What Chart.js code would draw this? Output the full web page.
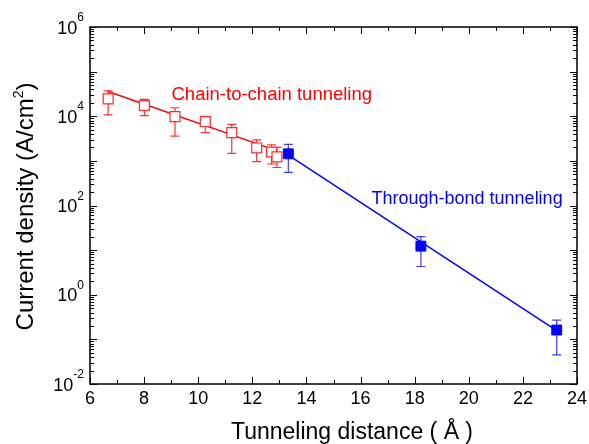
<!DOCTYPE html>
<html>
<head>
<meta charset="utf-8">
<script src="https://cdn.jsdelivr.net/npm/chart.js@4"></script>
<style>
  html, body { margin: 0; padding: 0; background: #fff; }
  canvas { display: block; }
</style>
</head>
<body>
<canvas id="c" width="589" height="444"></canvas>
<script>
// data
const chainX = [6.67, 8.01, 9.14, 10.26, 11.24, 12.16, 12.71, 12.91];
const chainY = [2.45e4, 1.74e4, 9.8e3, 7.6e3, 4.3e3, 1.95e3, 1.58e3, 1.23e3];
const chainHi = [3.7e4, 2.4e4, 1.55e4, 1.0e4, 6.6e3, 2.95e3, 2.3e3, 2.0e3];
const chainLo = [1.07e4, 1.03e4, 3.6e3, 4.3e3, 1.48e3, 9.6e2, 8.5e2, 7.1e2];

const bondX = [13.33, 18.23, 23.25];
const bondY = [1.44e3, 12.3, 0.162];
const bondHi = [2.35e3, 20, 0.27];
const bondLo = [5.5e2, 4.3, 0.045];

const chainFitX = [6.67, 12.9];
const chainFitY = [3.6e4, 1.7e3];
const bondFitX = [13.33, 23.25];
const bondFitY = [1.34e3, 0.158];

const xTicks = [6, 8, 10, 12, 14, 16, 18, 20, 22, 24];
const yTickExp = [-2, 0, 2, 4, 6];

const FONT = '"Liberation Sans", Arial, sans-serif';

function pts(xs, ys) {
  return xs.map((x, i) => ({x: x, y: ys[i]}));
}

// error bars, frame, ticks and text
const decor = {
  id: 'decor',
  beforeDatasetsDraw(chart) {
    const ctx = chart.ctx, xs = chart.scales.x, ys = chart.scales.y;
    function bars(X, Lo, Hi, color) {
      ctx.save();
      ctx.strokeStyle = color;
      ctx.lineWidth = 1.2;
      for (let i = 0; i < X.length; i++) {
        const px = xs.getPixelForValue(X[i]);
        const top = ys.getPixelForValue(Hi[i]);
        const bot = ys.getPixelForValue(Lo[i]);
        ctx.beginPath();
        ctx.moveTo(px, top); ctx.lineTo(px, bot);
        ctx.moveTo(px - 4.5, top); ctx.lineTo(px + 4.5, top);
        ctx.moveTo(px - 4.5, bot); ctx.lineTo(px + 4.5, bot);
        ctx.stroke();
      }
      ctx.restore();
    }
    bars(chainX, chainLo, chainHi, '#ff3030');
    bars(bondX, bondLo, bondHi, '#3c3cff');
  },
  afterDraw(chart) {
    const ctx = chart.ctx, xs = chart.scales.x, ys = chart.scales.y;
    const a = chart.chartArea;
    ctx.save();
    ctx.strokeStyle = '#000';
    ctx.lineWidth = 1.5;
    ctx.strokeRect(a.left, a.top, a.right - a.left, a.bottom - a.top);

    ctx.lineWidth = 1;
    ctx.beginPath();
    // x ticks (inward, top and bottom)
    for (let v = 6; v <= 24; v++) {
      const px = Math.round(xs.getPixelForValue(v)) + 0.5;
      const len = v % 2 === 0 ? 7 : 4;
      ctx.moveTo(px, a.bottom); ctx.lineTo(px, a.bottom - len);
      ctx.moveTo(px, a.top); ctx.lineTo(px, a.top + len);
    }
    // y ticks (log, inward, left and right)
    for (let e = -2; e <= 6; e++) {
      for (let k = 1; k <= 9; k++) {
        if (e === 6 && k > 1) break;
        const py = Math.round(ys.getPixelForValue(k * Math.pow(10, e))) + 0.5;
        const len = k === 1 ? 7 : 4;
        ctx.moveTo(a.left, py); ctx.lineTo(a.left + len, py);
        ctx.moveTo(a.right, py); ctx.lineTo(a.right - len, py);
      }
    }
    ctx.stroke();

    // tick labels
    ctx.fillStyle = '#000';
    ctx.font = '18px ' + FONT;
    ctx.textAlign = 'center';
    ctx.textBaseline = 'alphabetic';
    xTicks.forEach(v => {
      ctx.fillText(String(v), xs.getPixelForValue(v), 404);
    });
    yTickExp.forEach(e => {
      const py = ys.getPixelForValue(Math.pow(10, e));
      ctx.textAlign = 'right';
      ctx.font = '12px ' + FONT;
      const sup = String(e);
      const sw = ctx.measureText(sup).width;
      ctx.fillText(sup, 84, py - 6);
      ctx.font = '18px ' + FONT;
      ctx.fillText('10', 84 - sw, py + 6.5);
    });

    // axis titles
    ctx.font = '23px ' + FONT;
    ctx.textAlign = 'center';
    ctx.fillText('Tunneling distance ( Å )', 352, 439);

    ctx.save();
    ctx.translate(33, 206.5);
    ctx.rotate(-Math.PI / 2);
    ctx.textAlign = 'left';
    ctx.font = '24px ' + FONT;
    const t1 = 'Current density (A/cm', t3 = ')';
    const w1 = ctx.measureText(t1).width, w3 = ctx.measureText(t3).width;
    ctx.font = '14px ' + FONT;
    const w2 = ctx.measureText('2').width;
    let x0 = -(w1 + w2 + w3) / 2;
    ctx.font = '24px ' + FONT;
    ctx.fillText(t1, x0, 0);
    ctx.font = '14px ' + FONT;
    ctx.fillText('2', x0 + w1, -10);
    ctx.font = '24px ' + FONT;
    ctx.fillText(t3, x0 + w1 + w2, 0);
    ctx.restore();

    // series labels
    ctx.textAlign = 'left';
    ctx.font = '18.5px ' + FONT;
    ctx.fillStyle = '#ff0000';
    ctx.fillText('Chain-to-chain tunneling', 171.5, 100);
    ctx.font = '18px ' + FONT;
    ctx.fillStyle = '#0000ff';
    ctx.fillText('Through-bond tunneling', 371.5, 203.5);
    ctx.restore();
  }
};

new Chart(document.getElementById('c'), {
  type: 'scatter',
  data: {
    datasets: [
      {
        label: 'Chain-to-chain',
        data: pts(chainX, chainY),
        pointStyle: 'rect',
        pointRadius: 7,
        pointBackgroundColor: '#fff',
        pointBorderColor: '#ff2a2a',
        pointBorderWidth: 1.2,
        order: 1
      },
      {
        label: 'Through-bond',
        data: pts(bondX, bondY),
        pointStyle: 'rect',
        pointRadius: 7,
        pointBackgroundColor: '#0000ff',
        pointBorderColor: '#0000ff',
        pointBorderWidth: 1,
        order: 1
      },
      {
        label: 'chain fit',
        data: pts(chainFitX, chainFitY),
        showLine: true,
        borderColor: '#ff0000',
        borderWidth: 1.5,
        pointRadius: 0,
        order: 2
      },
      {
        label: 'bond fit',
        data: pts(bondFitX, bondFitY),
        showLine: true,
        borderColor: '#0000ff',
        borderWidth: 1.5,
        pointRadius: 0,
        order: 2
      }
    ]
  },
  options: {
    responsive: false,
    animation: false,
    layout: {padding: {left: 90, right: 12, top: 27, bottom: 60}},
    plugins: {legend: {display: false}, tooltip: {enabled: false}},
    scales: {
      x: {type: 'linear', min: 6, max: 24, display: false},
      y: {type: 'logarithmic', min: 0.01, max: 1e6, display: false}
    }
  },
  plugins: [decor]
});
</script>
</body>
</html>
